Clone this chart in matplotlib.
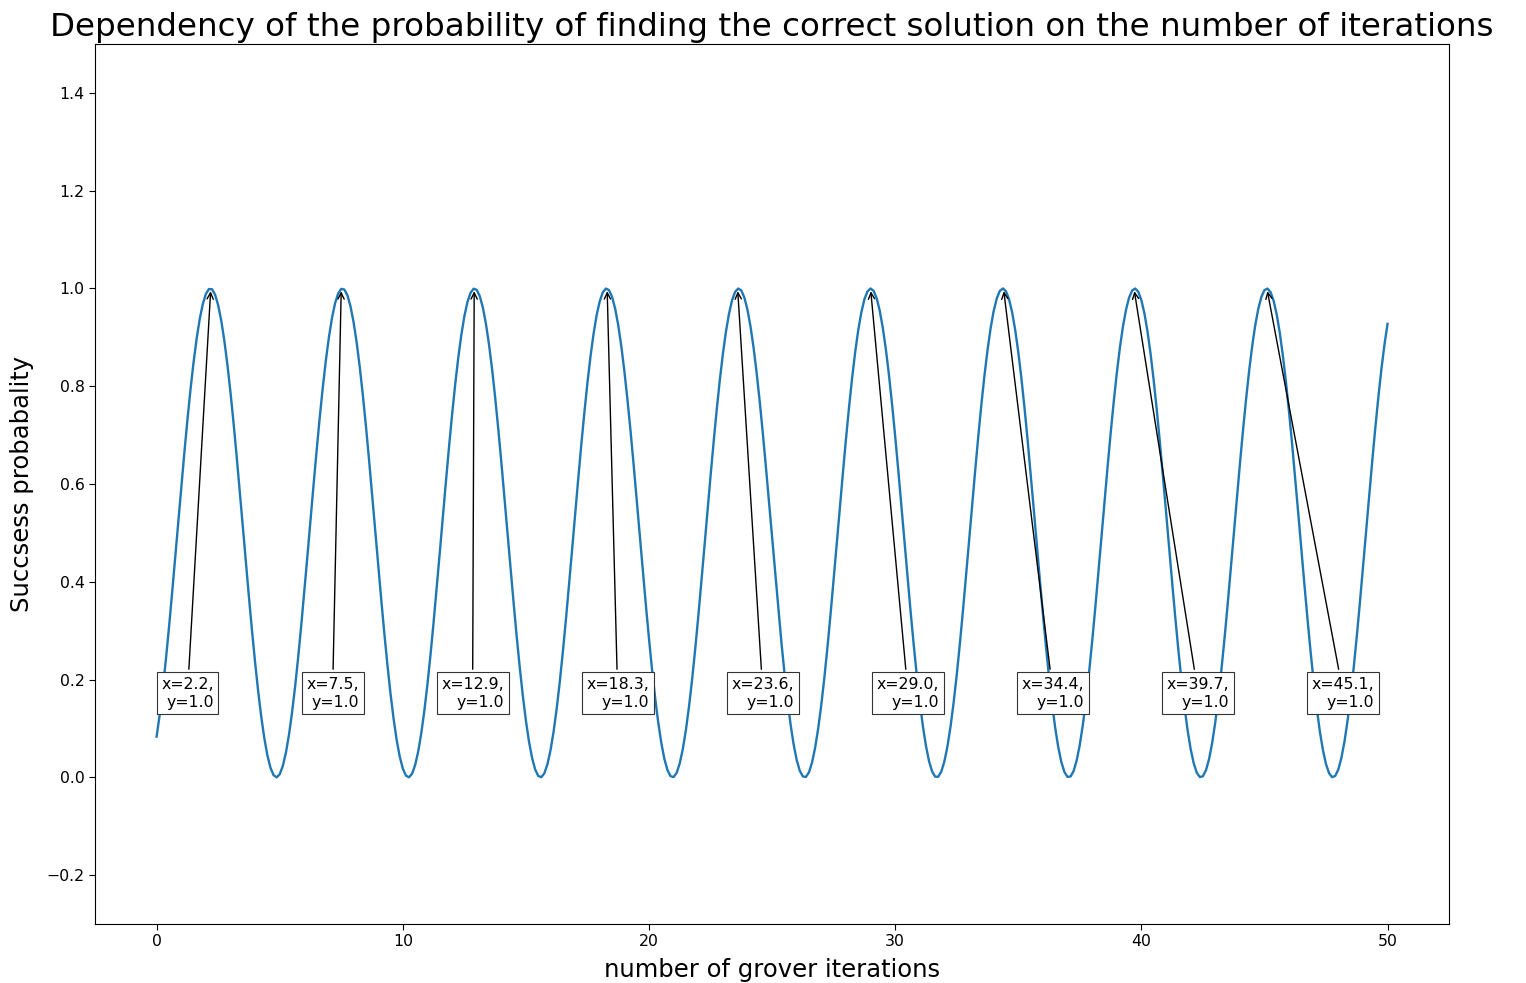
import matplotlib
matplotlib.use("Agg")
import matplotlib.pyplot as plt
import numpy as np

# success probability at x = 0, 0.25, 0.5, ... 50
prob_quarter = [
    0.0833, 0.1808, 0.3055, 0.4469, 0.5925, 0.7304, 0.8486, 0.9373, 0.9886, 0.9984,
    0.9658, 0.8935, 0.7878, 0.6575, 0.5138, 0.3689, 0.2352, 0.1241, 0.0449, 0.0045,
    0.0063, 0.0500, 0.1321, 0.2455, 0.3806, 0.5258, 0.6688, 0.7975, 0.9008, 0.9700,
    0.9992, 0.9860, 0.9313, 0.8400, 0.7196, 0.5807, 0.4348, 0.2945, 0.1717, 0.0768,
    0.0180,
    0.0001, 0.0249, 0.0900, 0.1901, 0.3166, 0.4586, 0.6042, 0.7410, 0.8571, 0.9430,
    0.9910, 0.9973, 0.9613, 0.8860, 0.7779, 0.6461, 0.5017, 0.3575, 0.2252, 0.1163,
    0.0401, 0.0030,
    0.0083, 0.0554, 0.1404, 0.2559, 0.3923, 0.5378, 0.6801, 0.8071, 0.9078, 0.9740,
    0.9998, 0.9830, 0.9251, 0.8310, 0.7088, 0.5688, 0.4229, 0.2836, 0.1627, 0.0705,
    0.0149,
    0.0006, 0.0288, 0.0970, 0.1996, 0.3278, 0.4706, 0.6159, 0.7514, 0.8654, 0.9484,
    0.9932, 0.9960, 0.9565, 0.8783, 0.7678, 0.6345, 0.4898, 0.3460, 0.2152, 0.1087,
    0.0355, 0.0019,
    0.0106, 0.0610, 0.1488, 0.2665, 0.4040, 0.5497, 0.6912, 0.8165, 0.9147, 0.9777,
    1.0000, 0.9798, 0.9187, 0.8220, 0.6979, 0.5568, 0.4110, 0.2729, 0.1540, 0.0645,
    0.0121,
    0.0013, 0.0329, 0.1043, 0.2093, 0.3391, 0.4826, 0.6276, 0.7618, 0.8735, 0.9536,
    0.9950, 0.9943, 0.9515, 0.8703, 0.7576, 0.6229, 0.4778, 0.3346, 0.2054, 0.1014,
    0.0312, 0.0010,
    0.0132, 0.0669, 0.1575, 0.2772, 0.4159, 0.5618, 0.7024, 0.8257, 0.9214, 0.9811,
    0.9999, 0.9762, 0.9120, 0.8127, 0.6867, 0.5448, 0.3992, 0.2621, 0.1453, 0.0587,
    0.0096,
    0.0023, 0.0374, 0.1118, 0.2192, 0.3506, 0.4948, 0.6392, 0.7719, 0.8815, 0.9585,
    0.9966, 0.9923, 0.9462, 0.8621, 0.7472, 0.6112, 0.4658, 0.3232, 0.1957, 0.0941,
    0.0271, 0.0004,
    0.0161, 0.0731, 0.1663, 0.2880, 0.4277, 0.5736, 0.7132, 0.8347, 0.9277,
]

# and in between, at x = 0.125, 0.375, ... 49.875
prob_between = [
    0.1281, 0.2404, 0.3748, 0.5198, 0.6631, 0.7926, 0.8972, 0.9679, 0.9989, 0.9873,
    0.9343, 0.8444, 0.7251, 0.5866, 0.4408, 0.3000, 0.1762, 0.0800, 0.0196, 0.0000,
    0.0230, 0.0866, 0.1854, 0.3110, 0.4527, 0.5983, 0.7357, 0.8529, 0.9401, 0.9899,
    0.9979, 0.9636, 0.8898, 0.7829, 0.6517, 0.5078, 0.3631, 0.2302, 0.1202, 0.0425,
    0.0037,
    0.0072, 0.0527, 0.1362, 0.2507, 0.3864, 0.5317, 0.6744, 0.8023, 0.9044, 0.9720,
    0.9995, 0.9845, 0.9283, 0.8356, 0.7142, 0.5747, 0.4289, 0.2890, 0.1672, 0.0736,
    0.0164, 0.0003,
    0.0268, 0.0935, 0.1948, 0.3222, 0.4646, 0.6101, 0.7462, 0.8613, 0.9457, 0.9921,
    0.9967, 0.9590, 0.8822, 0.7728, 0.6403, 0.4958, 0.3517, 0.2201, 0.1125, 0.0378,
    0.0024,
    0.0094, 0.0582, 0.1445, 0.2612, 0.3981, 0.5437, 0.6856, 0.8118, 0.9113, 0.9759,
    0.9999, 0.9814, 0.9220, 0.8265, 0.7034, 0.5628, 0.4169, 0.2783, 0.1583, 0.0675,
    0.0135, 0.0009,
    0.0308, 0.1006, 0.2045, 0.3335, 0.4767, 0.6217, 0.7566, 0.8695, 0.9510, 0.9941,
    0.9952, 0.9541, 0.8744, 0.7627, 0.6287, 0.4839, 0.3402, 0.2103, 0.1050, 0.0333,
    0.0014,
    0.0119, 0.0639, 0.1531, 0.2718, 0.4099, 0.5556, 0.6967, 0.8210, 0.9180, 0.9794,
    1.0000, 0.9780, 0.9153, 0.8174, 0.6924, 0.5509, 0.4051, 0.2675, 0.1496, 0.0616,
    0.0109, 0.0018,
    0.0351, 0.1080, 0.2143, 0.3449, 0.4887, 0.6335, 0.7669, 0.8776, 0.9561, 0.9958,
    0.9933, 0.9489, 0.8662, 0.7524, 0.6170, 0.4717, 0.3289, 0.2005, 0.0977, 0.0291,
    0.0006,
    0.0146, 0.0700, 0.1619, 0.2826, 0.4219, 0.5676, 0.7078, 0.8303, 0.9245, 0.9827,
    0.9998, 0.9743, 0.9086, 0.8080, 0.6811, 0.5389, 0.3934, 0.2568, 0.1411, 0.0559,
    0.0085, 0.0029,
    0.0397, 0.1156, 0.2242, 0.3564, 0.5007, 0.6450, 0.7769, 0.8853,
]

# annotated maxima
peak_x = [2.2, 7.5, 12.9, 18.3, 23.6, 29.0, 34.4, 39.7, 45.1]
peak_y = [1.0, 1.0, 1.0, 1.0, 1.0, 1.0, 1.0, 1.0, 1.0]

success_prob = np.empty(len(prob_quarter) + len(prob_between))
success_prob[0::2] = prob_quarter
success_prob[1::2] = prob_between
iterations = np.linspace(0, 50, len(success_prob))

fig = plt.figure(figsize=(15.26, 9.83), dpi=100)
ax = fig.add_axes([0.0623, 0.060, 0.8873, 0.8952])

ax.plot(iterations, success_prob, color="#1f77b4", lw=1.7)
ax.set_ylim(-0.3, 1.5)
ax.set_xlim(-2.5, 52.5)
ax.tick_params(labelsize=11.3, length=4)

# label boxes sit in a row at y=0.2, right edges spread across the axes
text_x = np.linspace(2.32, 49.47, len(peak_x))
box_props = dict(boxstyle="square,pad=0.3", fc="w", ec="#333333", lw=0.8)
arrow_props = dict(arrowstyle="->", color="k", lw=1.0)
for px, py, tx in zip(peak_x, peak_y, text_x):
    ax.annotate(
        f"x={px:.1f},\ny={py:.1f}",
        xy=(px, py),
        xytext=(tx, 0.205),
        xycoords="data",
        textcoords="data",
        arrowprops=arrow_props,
        bbox=box_props,
        ha="right",
        va="top",
        fontsize=11.3,
    )

ax.set_title(
    "Dependency of the probability of finding the correct solution on the number of iterations",
    fontsize=23.4,
)
ax.set_xlabel("number of grover iterations", fontsize=17.5, labelpad=6)
ax.set_ylabel("Succsess probabality", fontsize=17.5, labelpad=9)

fig.savefig("out.png", dpi=100)
